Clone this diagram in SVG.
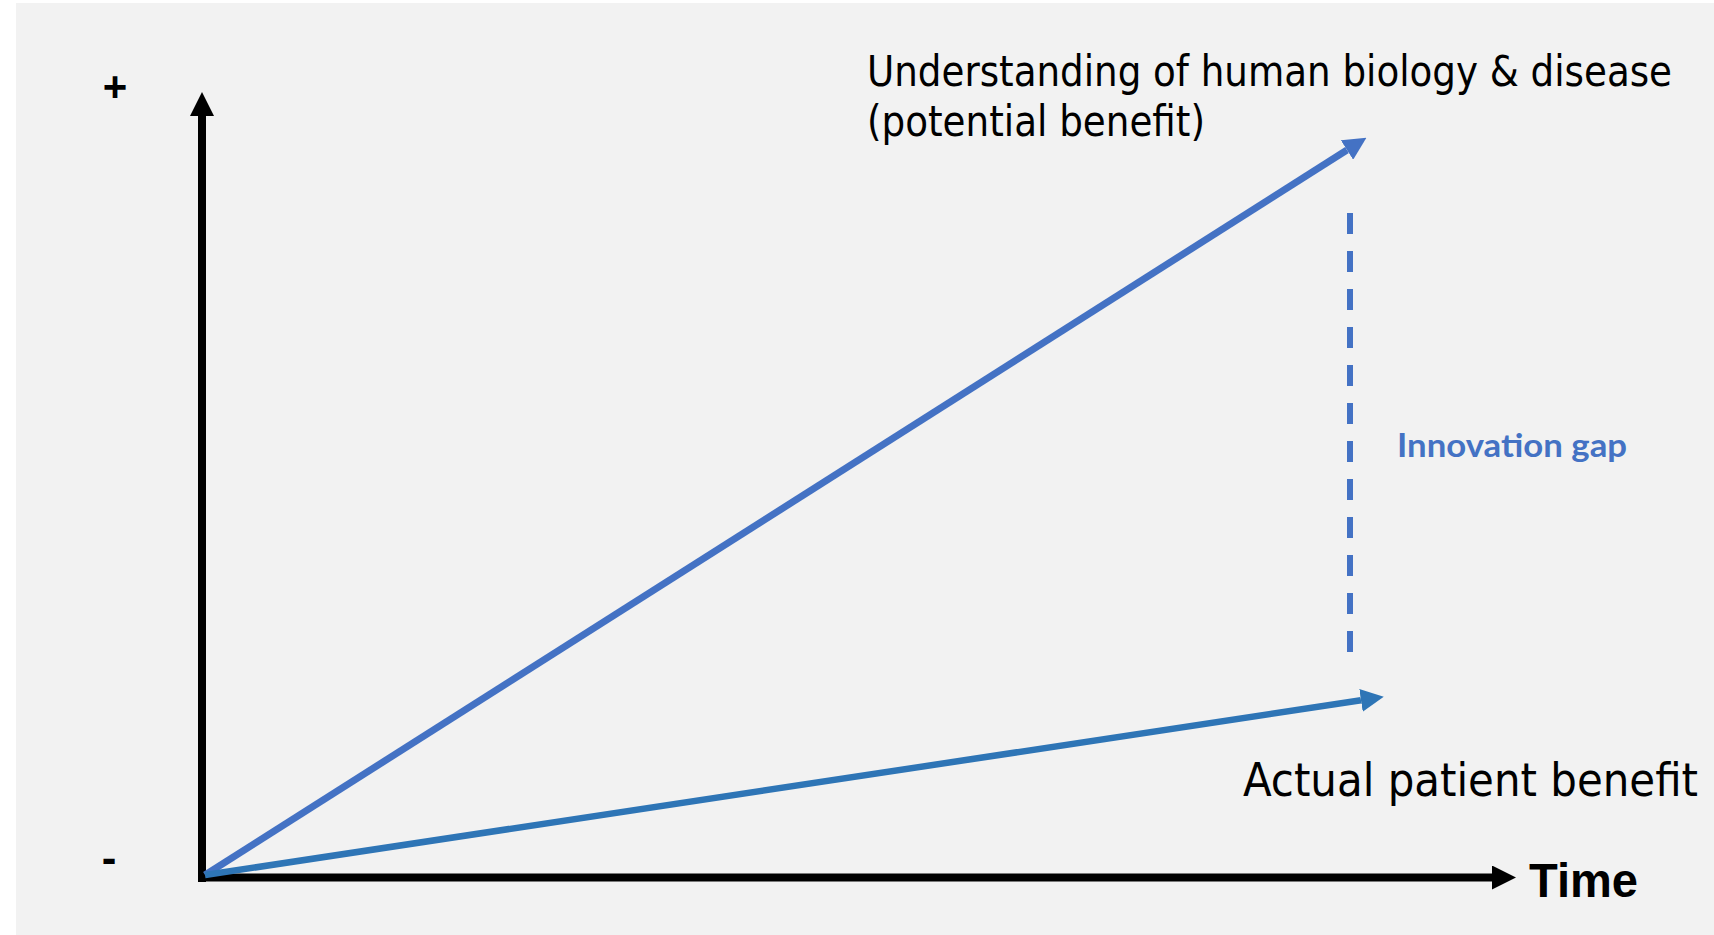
<svg xmlns="http://www.w3.org/2000/svg" width="1714" height="935" viewBox="0 0 1714 935">
  <style>
    .axis { stroke: #000; stroke-width: 8; fill: none; }
    .blue1 { stroke: #4472c4; stroke-width: 7; fill: none; }
    .blue2 { stroke: #2e75b6; stroke-width: 6.5; fill: none; }
    .gap { stroke: #4472c4; stroke-width: 6; fill: none; stroke-dasharray: 21 17; }
    .lbl { font-family: "DejaVu Sans Condensed", "DejaVu Sans", "Liberation Sans", sans-serif; fill: #000; }
    .bold { font-family: "Liberation Sans", Arial, sans-serif; font-weight: bold; fill: #000; }
    .gaplbl { font-family: Lato, "Open Sans", "Liberation Sans", sans-serif; font-weight: bold; fill: #4472c4; }
  </style>
  <defs>
    <marker id="arrBlack" markerUnits="userSpaceOnUse" markerWidth="24" markerHeight="24" refX="0" refY="12" orient="auto" viewBox="0 0 24 24">
      <path d="M0,0 L24,12 L0,24 z" fill="#000"/>
    </marker>
    <marker id="arrBlue1" markerUnits="userSpaceOnUse" markerWidth="23" markerHeight="23" refX="0" refY="11.5" orient="auto" viewBox="0 0 23 23">
      <path d="M0,0 L23,11.5 L0,23 z" fill="#4472c4"/>
    </marker>
    <marker id="arrBlue2" markerUnits="userSpaceOnUse" markerWidth="23" markerHeight="23" refX="0" refY="11.5" orient="auto" viewBox="0 0 23 23">
      <path d="M0,0 L23,11.5 L0,23 z" fill="#2e75b6"/>
    </marker>
  </defs>
  <rect x="16" y="3" width="1698" height="932" fill="#f2f2f2"/>

  <g id="connectors">
    <line id="y-axis" class="axis" x1="202" y1="882" x2="202" y2="116" marker-end="url(#arrBlack)"/>
    <line id="x-axis" class="axis" x1="198" y1="877.5" x2="1492" y2="877.5" marker-end="url(#arrBlack)"/>
    <line id="potential-line" class="blue1" x1="205" y1="875" x2="1347" y2="150" marker-end="url(#arrBlue1)"/>
    <line id="actual-line" class="blue2" x1="205" y1="875" x2="1361" y2="700.3" marker-end="url(#arrBlue2)"/>
    <line id="gap-line" class="gap" x1="1350" y1="213" x2="1350" y2="652"/>
  </g>

  <g id="plus-label">
    <text class="bold" x="115" y="101" font-size="42" text-anchor="middle">+</text>
  </g>
  <g id="minus-label">
    <text class="bold" x="109" y="873" font-size="44" text-anchor="middle">-</text>
  </g>
  <g id="time-label">
    <text class="bold" x="1529" y="897" font-size="48" textLength="109" lengthAdjust="spacingAndGlyphs">Time</text>
  </g>
  <g id="potential-label">
    <text class="lbl" x="867" y="86" font-size="42" textLength="805" lengthAdjust="spacingAndGlyphs">Understanding of human biology &amp; disease</text>
    <text class="lbl" x="867" y="136" font-size="42" textLength="338" lengthAdjust="spacingAndGlyphs">(potential benefit)</text>
  </g>
  <g id="actual-label">
    <text class="lbl" x="1243" y="796" font-size="46" textLength="455" lengthAdjust="spacingAndGlyphs">Actual patient benefit</text>
  </g>
  <g id="gap-label">
    <text class="gaplbl" x="1397" y="457" font-size="33" textLength="230" lengthAdjust="spacingAndGlyphs">Innovation gap</text>
  </g>
</svg>
